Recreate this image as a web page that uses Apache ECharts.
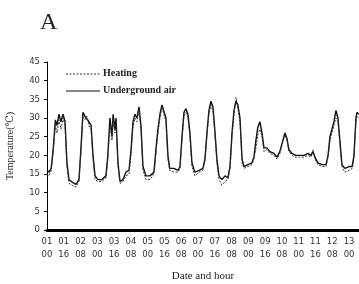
<!DOCTYPE html>
<html><head><meta charset="utf-8">
<script src="https://cdn.jsdelivr.net/npm/echarts@6/dist/echarts.min.js"></script>
<style>html,body{margin:0;padding:0;background:#fff}#c{width:359px;height:284px}</style>
</head><body><div id="c"></div>
<script>
const hours = [0,2,4,6,8,9.5,11.4,13.3,15.3,17.2,19,21,24,27.6,30.5,32.4,34.3,36.2,38,40,42,43.9,45.8,48.6,52.4,56.2,58,60,62,63,64.8,65.8,67.7,69.6,72.5,75.3,78.2,80,82,83.9,85.8,87.7,89.6,91.5,94.4,98.2,102,104,106,107.7,109.6,111.5,113.4,115.3,117,121,125,126.8,128.7,130.6,132.5,134.4,136.3,138.2,141,145,148.7,150.6,152.5,154.4,156.3,158.2,160,162,164,166.8,169.7,172.5,174.5,176.4,178.3,180.2,182,184,186,187.8,191.6,195.4,197.3,199.2,201,203,205,206.9,209.7,212.6,216.4,219.3,222,224.9,226.9,228.8,230.7,233.6,237.4,241,245,248.8,251.7,253.6,255.5,258.3,262.2,266,268,269.8,271.7,273.6,275.5,277.4,279.3,281.2,284,288,291,292.7,294.6,295.6,297.5];
const underground = [16,15.5,16.5,22,29.5,28,31,29,31,29,18,13.5,12.8,12.2,13.5,22,31.5,30.5,31,29,28,20,14.5,13.5,13.5,14.5,20,30,25,31,27,30,18,13,13.5,15.5,16,21,29,31,30,33,28,17,14.5,14.5,15.5,22,27.5,31,33.5,33,30,20,16.5,16.5,16,17,25,31.5,32.5,31,26,18,15.5,16,16.5,19,26,32,34.5,33,27,19,14.5,13.5,14.5,14,17,26,32,34.5,33.5,30,19,17,17.5,18,19.5,24,27.5,29,26,22,22,21,20.5,19.5,21,24,26,24.5,21.5,20.5,20,20,20,20.5,20,21,19.5,18,17.5,17.5,20,25,27,29,32,30,24,17.5,16.5,17,17,20,30,31.5,31];
const heating = [15,14.5,16,21,28,26,29.5,27,30,28,17,12.5,12,11.5,13,21,30.5,29.5,30.5,28,27,19,13.5,13,13,14,19,28,24,29.5,26,28.5,17,12.5,13,14.5,15,20,27.5,30,29,32,27,16,13.5,13.5,15,21,26.5,30,33,32.5,29,19,16,15.5,15.5,16.5,24,30.5,31.5,30,25,17,14.5,15.5,16,18.5,25,31,33.5,32,26,18,13.5,12,13,13.5,16.5,25,31,35.5,32.5,29,18,16.5,17,17.5,19,22,25.5,27,25,21,21.5,20.5,20,19,20.5,23.5,25.5,24,21,20,19.5,19.5,19.5,20,19.5,21.5,19,17.5,17,17,19.5,24,26,28,30,29,23,17,15.5,16,16.5,19.5,29,30.5,30];
const xTickLabels = ['01\n00','01\n16','02\n08','03\n00','03\n16','04\n08','05\n00','05\n16','06\n08','07\n00','07\n16','08\n08','09\n00','09\n16','10\n08','11\n00','11\n16','12\n08','13\n00'];
const yTicks = [0,5,10,15,20,25,30,35,40,45];
const seriesNames = ['Heating','Underground air'];

const serif = '"Liberation Serif","DejaVu Serif",serif';
const sans = '"DejaVu Sans",sans-serif';
const heatStyle = {color:'#333', width:1, type:[2,1.5]};
const ugStyle = {color:'#111', width:1.4, type:'solid'};
const chart = echarts.init(document.getElementById('c'), null, {renderer:'canvas'});
chart.setOption({
  animation:false,
  backgroundColor:'#fff',
  title:{text:'A', left:35, top:6, textStyle:{fontFamily:serif, fontSize:24, fontWeight:'normal', color:'#222'}},
  graphic:[
    {type:'line', shape:{x1:66,y1:74,x2:100,y2:74}, style:{stroke:heatStyle.color, lineWidth:1, lineDash:[2,1.5]}},
    {type:'text', left:103, top:68, style:{text:seriesNames[0], font:'bold 10px '+serif, fill:'#222'}},
    {type:'line', shape:{x1:66,y1:91,x2:100,y2:91}, style:{stroke:ugStyle.color, lineWidth:1.2}},
    {type:'text', left:103, top:85, style:{text:seriesNames[1], font:'bold 10px '+serif, fill:'#222'}}
  ],
  grid:{left:47, top:62, width:312, height:168, containLabel:false, outerBoundsMode:'none'},
  xAxis:{type:'value', min:0, max:297.5, interval:16,
    name:'Date and hour', nameLocation:'middle', nameGap:41,
    nameTextStyle:{fontFamily:serif, fontSize:11, color:'#222'},
    axisLine:{lineStyle:{color:'#000', width:3, type:[7.2,1.2]}},
    axisTick:{show:false},
    splitLine:{show:false},
    axisLabel:{fontFamily:sans, fontSize:8.5, color:'#333', lineHeight:13, margin:5,
      showMaxLabel:false,
      formatter:function(v){const i=Math.round(v/16);return (Math.abs(v-i*16)<0.01 && i<xTickLabels.length)?xTickLabels[i]:'';}}
  },
  yAxis:{type:'value', min:0, max:45, interval:5,
    name:'Temperature(\u2103)', nameLocation:'middle', nameGap:32,
    nameTextStyle:{fontFamily:serif, fontSize:10, color:'#222'},
    axisLine:{show:true, lineStyle:{color:'#000', width:1}},
    axisTick:{show:true, length:3, lineStyle:{color:'#000'}},
    splitLine:{show:false},
    axisLabel:{fontFamily:sans, fontSize:8.5, color:'#333', margin:7,
      formatter:function(v){return yTicks.indexOf(v)>=0?String(v):'';}}
  },
  series:[
    {name:seriesNames[0], type:'line', symbol:'none', z:3,
      data:hours.map((h,i)=>[h,heating[i]]),
      lineStyle:heatStyle, itemStyle:{color:heatStyle.color}},
    {name:seriesNames[1], type:'line', symbol:'none', z:2,
      data:hours.map((h,i)=>[h,underground[i]]),
      lineStyle:ugStyle, itemStyle:{color:ugStyle.color}}
  ]
});
</script></body></html>
